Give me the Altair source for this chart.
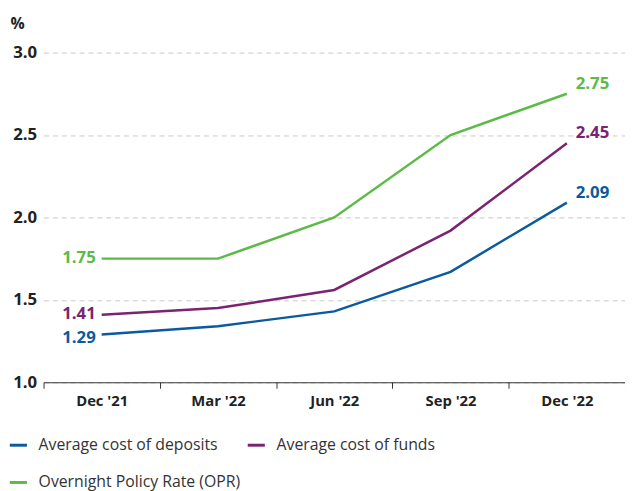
import altair as alt
import pandas as pd

months = ["Dec '21", "Mar '22", "Jun '22", "Sep '22", "Dec '22"]
series_names = ["Average cost of deposits", "Average cost of funds", "Overnight Policy Rate (OPR)"]
deposits = [1.29, 1.34, 1.43, 1.67, 2.09]
funds = [1.41, 1.45, 1.56, 1.92, 2.45]
opr = [1.75, 1.75, 2.00, 2.50, 2.75]
colors = ["#0b5a9e", "#7a2471", "#5cba47"]

rows = []
for name, vals in zip(series_names, [deposits, funds, opr]):
    for m, v in zip(months, vals):
        rows.append({"month": m, "series": name, "value": v})
df = pd.DataFrame(rows)

FONT = "Open Sans"

x = alt.X("month:N", sort=months, title=None,
          scale=alt.Scale(paddingInner=0, paddingOuter=0),
          axis=alt.Axis(labelAngle=0, labelFontSize=15, labelFontWeight="bold",
                        labelColor="#222222", labelPadding=6, domainColor="#333333",
                        tickColor="#333333", tickSize=6, tickBand="extent",
                        grid=False, labelFont=FONT))
y = alt.Y("value:Q", title="%",
          scale=alt.Scale(domain=[1.0, 3.0], nice=False, zero=False),
          axis=alt.Axis(values=[1.0, 1.5, 2.0, 2.5, 3.0], format=".1f",
                        labelFontSize=17, labelFontWeight="bold", labelColor="#222222",
                        labelPadding=7, ticks=False, domain=False,
                        grid=True, gridColor="#c8c8c8", gridDash=[5, 4], gridWidth=1,
                        titleAngle=0, titleAlign="left", titleBaseline="middle",
                        titleX=-34, titleY=-29, titleFontSize=16, titleFontWeight="bold",
                        titleColor="#222222", labelFont=FONT, titleFont=FONT))
color_scale = alt.Scale(domain=series_names, range=colors)
color = alt.Color("series:N", sort=series_names, scale=color_scale,
                  legend=alt.Legend(title=None, orient="none", legendX=-36, legendY=387,
                                    direction="horizontal",
                                    columns=2, symbolType="stroke", symbolStrokeWidth=3,
                                    symbolSize=300, labelFontSize=16, labelColor="#333333",
                                    labelFont=FONT, columnPadding=0, rowPadding=19,
                                    labelLimit=400, symbolOffset=0, labelOffset=10))
text_color = alt.Color("series:N", scale=color_scale, legend=None)
text_enc = dict(x=x, y=y, text=alt.Text("value:Q", format=".2f"), color=text_color)

base = alt.Chart(df)
lines = base.mark_line(strokeWidth=2.5).encode(x=x, y=y, color=color)

left_low = base.transform_filter(
    (alt.datum.month == months[0]) & (alt.datum.series == series_names[0])
).mark_text(align="right", baseline="middle", dx=-6, dy=4, fontSize=17,
            fontWeight="bold", font=FONT).encode(**text_enc)

left_other = base.transform_filter(
    (alt.datum.month == months[0]) & (alt.datum.series != series_names[0])
).mark_text(align="right", baseline="middle", dx=-6, dy=-1, fontSize=17,
            fontWeight="bold", font=FONT).encode(**text_enc)

right = base.transform_filter(alt.datum.month == months[-1]).mark_text(
    align="left", baseline="middle", dx=9, dy=-10, fontSize=17, fontWeight="bold", font=FONT
).encode(**text_enc)

chart = alt.layer(lines, left_low, left_other, right).properties(
    width=589, height=334,
    autosize=alt.AutoSizeParams(type="none"),
    padding={"left": 36, "top": 42, "right": 0, "bottom": 107},
).configure_view(stroke=None)

chart.save("out.html", embed_options={"renderer": "svg", "actions": False})
